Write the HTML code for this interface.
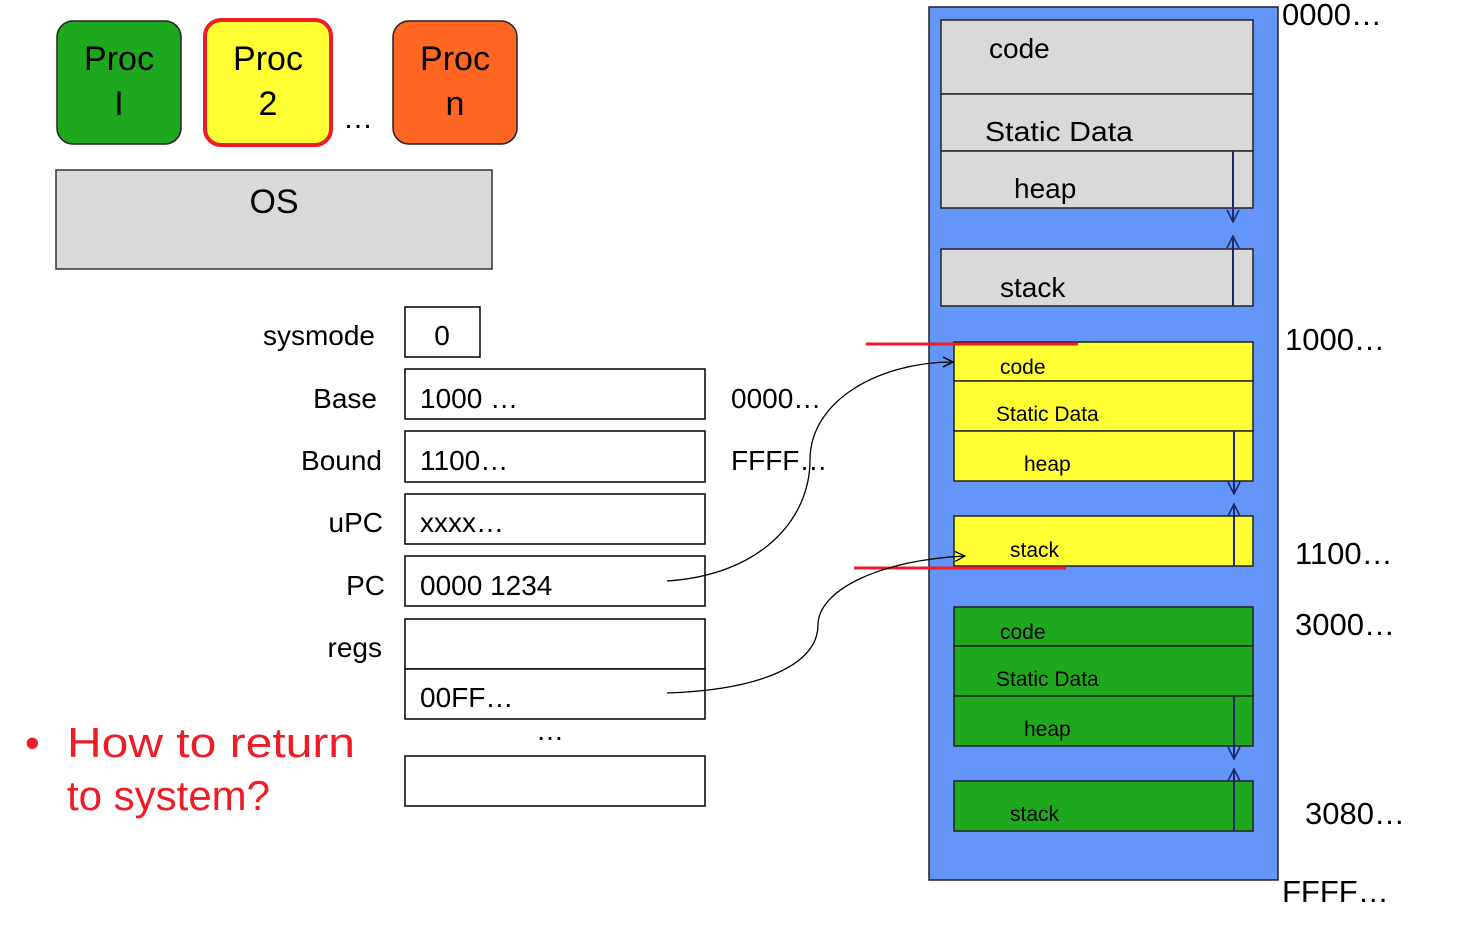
<!DOCTYPE html>
<html><head><meta charset="utf-8"><style>
html,body{margin:0;padding:0;background:#fff;width:1482px;height:930px;overflow:hidden}
text{font-family:"Liberation Sans",sans-serif;fill:#000}
</style></head><body>
<svg width="1482" height="930" xmlns="http://www.w3.org/2000/svg">
<defs>
<marker id="op" viewBox="0 0 12 12" refX="11" refY="6" markerWidth="12" markerHeight="12" markerUnits="userSpaceOnUse" orient="auto"><path d="M1,1 L11,6 L1,11" fill="none" stroke="#000" stroke-width="1.3"/></marker>
<marker id="ob" viewBox="0 0 14 14" refX="13" refY="7" markerWidth="14" markerHeight="14" markerUnits="userSpaceOnUse" orient="auto"><path d="M1,1 L13,7 L1,13" fill="none" stroke="#1a2a6a" stroke-width="1.6"/></marker>
</defs>
<!-- Procs -->
<rect x="57" y="21" width="124" height="123" rx="16" fill="#1ea81e" stroke="#222" stroke-width="1.5"/>
<text x="119" y="70" font-size="34" text-anchor="middle">Proc</text>
<text x="119" y="115" font-size="34" text-anchor="middle">I</text>
<rect x="205" y="20" width="126" height="125" rx="16" fill="#ffff33" stroke="#ee1c24" stroke-width="4"/>
<text x="268" y="70" font-size="34" text-anchor="middle">Proc</text>
<text x="268" y="115" font-size="34" text-anchor="middle">2</text>
<text x="358" y="128" font-size="30" text-anchor="middle">…</text>
<rect x="393" y="21" width="124" height="123" rx="16" fill="#ff6622" stroke="#222" stroke-width="1.5"/>
<text x="455" y="70" font-size="34" text-anchor="middle">Proc</text>
<text x="455" y="115" font-size="34" text-anchor="middle">n</text>
<rect x="56" y="170" width="436" height="99" fill="#d9d9d9" stroke="#333" stroke-width="1.5"/>
<text x="274" y="213" font-size="34" text-anchor="middle">OS</text>
<!-- registers -->
<g font-size="28">
<text x="375" y="345" text-anchor="end">sysmode</text>
<text x="377" y="408" text-anchor="end">Base</text>
<text x="382" y="470" text-anchor="end">Bound</text>
<text x="383" y="532" text-anchor="end">uPC</text>
<text x="385" y="595" text-anchor="end">PC</text>
<text x="382" y="657" text-anchor="end">regs</text>
</g>
<g fill="#fff" stroke="#000" stroke-width="1.5">
<rect x="405" y="307" width="75" height="50"/>
<rect x="405" y="369" width="300" height="50"/>
<rect x="405" y="431" width="300" height="51"/>
<rect x="405" y="494" width="300" height="50"/>
<rect x="405" y="556" width="300" height="50"/>
<rect x="405" y="619" width="300" height="50"/>
<rect x="405" y="669" width="300" height="50"/>
<rect x="405" y="756" width="300" height="50"/>
</g>
<g font-size="28">
<text x="442" y="345" text-anchor="middle">0</text>
<text x="420" y="408">1000 …</text>
<text x="420" y="470">1100…</text>
<text x="420" y="532">xxxx…</text>
<text x="420" y="595">0000 1234</text>
<text x="420" y="707">00FF…</text>
<text x="550" y="740" text-anchor="middle">…</text>
<text x="731" y="408">0000…</text>
<text x="731" y="470">FFFF…</text>
</g>
<text x="25" y="757" font-size="42" style="fill:#ee1c24">•</text>
<text x="67" y="757" font-size="42" textLength="288" lengthAdjust="spacingAndGlyphs" style="fill:#ee1c24">How to return</text>
<text x="67" y="810" font-size="42" textLength="203" lengthAdjust="spacingAndGlyphs" style="fill:#ee1c24">to system?</text>
<!-- memory -->
<rect x="929" y="7" width="349" height="873" fill="#6495f8" stroke="#222" stroke-width="1.5"/>
<g stroke="#222" stroke-width="1.5">
<rect x="941" y="20" width="312" height="74" fill="#d9d9d9"/>
<rect x="941" y="94" width="312" height="57" fill="#d9d9d9"/>
<rect x="941" y="151" width="312" height="57" fill="#d9d9d9"/>
<rect x="941" y="249" width="312" height="57" fill="#d9d9d9"/>
<rect x="954" y="342" width="299" height="39" fill="#ffff33"/>
<rect x="954" y="381" width="299" height="50" fill="#ffff33"/>
<rect x="954" y="431" width="299" height="50" fill="#ffff33"/>
<rect x="954" y="516" width="299" height="50" fill="#ffff33"/>
<rect x="954" y="607" width="299" height="39" fill="#1ea81e"/>
<rect x="954" y="646" width="299" height="50" fill="#1ea81e"/>
<rect x="954" y="696" width="299" height="50" fill="#1ea81e"/>
<rect x="954" y="781" width="299" height="50" fill="#1ea81e"/>
</g>
<g stroke="#1a2a6a" stroke-width="2" fill="none">
<line x1="1233" y1="151" x2="1233" y2="222" marker-end="url(#ob)"/>
<line x1="1233" y1="306" x2="1233" y2="236" marker-end="url(#ob)"/>
<line x1="1234" y1="431" x2="1234" y2="494" marker-end="url(#ob)"/>
<line x1="1234" y1="566" x2="1234" y2="504" marker-end="url(#ob)"/>
<line x1="1234" y1="696" x2="1234" y2="759" marker-end="url(#ob)"/>
<line x1="1234" y1="831" x2="1234" y2="769" marker-end="url(#ob)"/>
</g>
<g font-size="28">
<text x="989" y="58">code</text>
<text x="985" y="141" textLength="148" lengthAdjust="spacingAndGlyphs">Static Data</text>
<text x="1014" y="198">heap</text>
<text x="1000" y="297">stack</text>
</g>
<g font-size="21">
<text x="1000" y="374">code</text>
<text x="996" y="421">Static Data</text>
<text x="1024" y="471">heap</text>
<text x="1010" y="557">stack</text>
<text x="1000" y="639">code</text>
<text x="996" y="686">Static Data</text>
<text x="1024" y="736">heap</text>
<text x="1010" y="821">stack</text>
</g>
<g font-size="31">
<text x="1282" y="25">0000…</text>
<text x="1285" y="350">1000…</text>
<text x="1295" y="564">1100…</text>
<text x="1295" y="635">3000…</text>
<text x="1305" y="824">3080…</text>
<text x="1282" y="902">FFFF…</text>
</g>
<line x1="866" y1="344" x2="1078" y2="344" stroke="#ee1c24" stroke-width="3"/>
<line x1="854" y1="568" x2="1066" y2="568" stroke="#ee1c24" stroke-width="3"/>
<path d="M667,581 C760,575 810,520 810,460 C810,400 880,362 953,362" fill="none" stroke="#000" stroke-width="1.3" marker-end="url(#op)"/>
<path d="M667,693 C760,690 818,665 818,625 C818,590 880,560 965,556" fill="none" stroke="#000" stroke-width="1.3" marker-end="url(#op)"/>
</svg>
</body></html>
